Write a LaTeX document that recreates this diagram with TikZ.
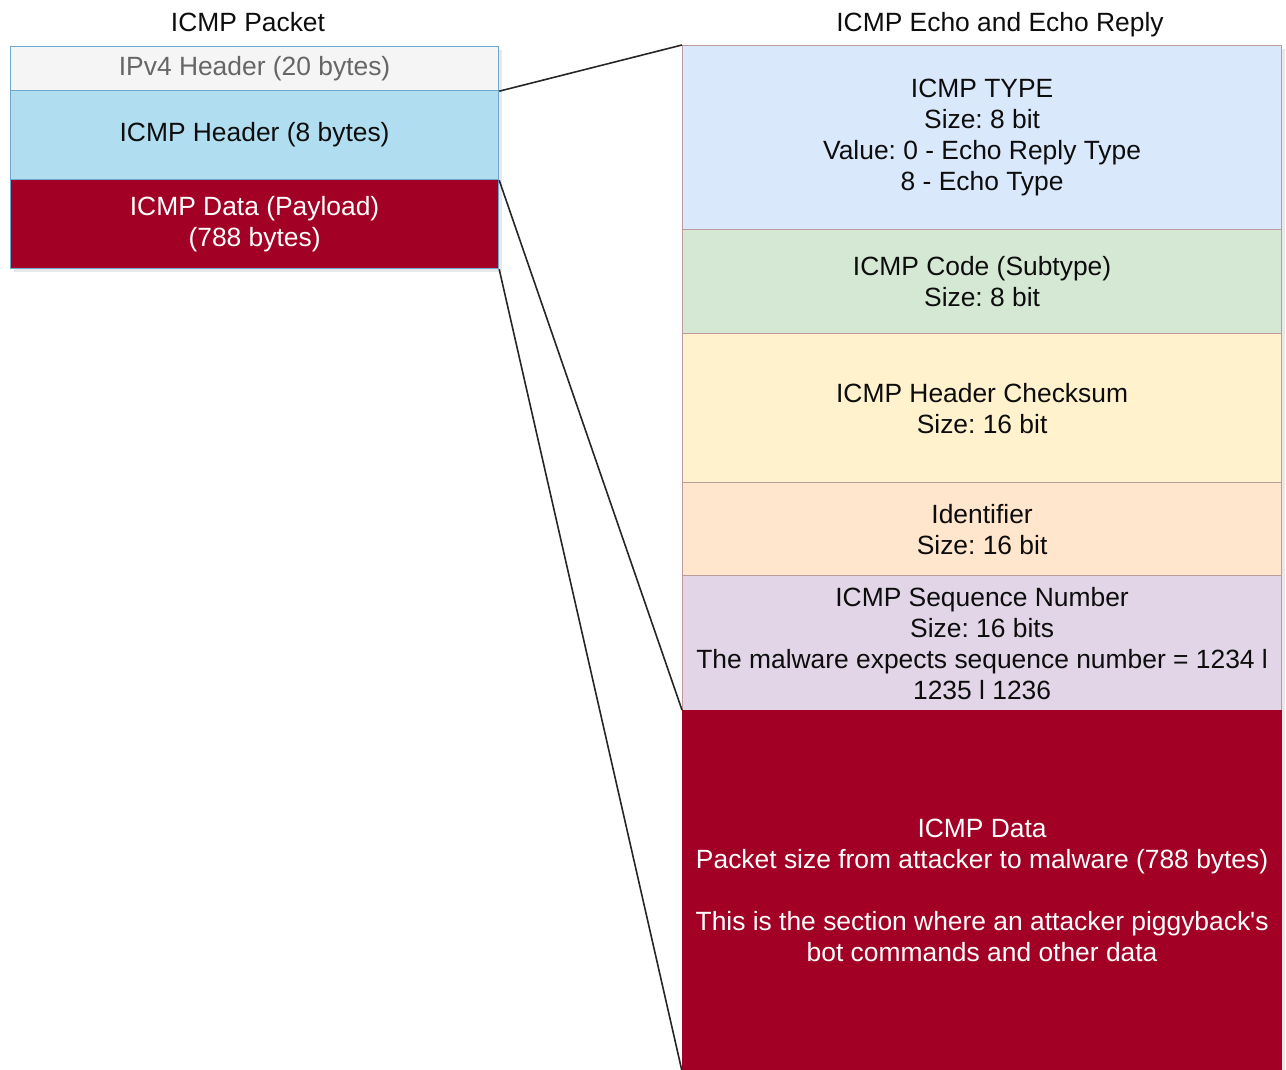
\documentclass[tikz,border=0pt]{standalone}
\usepackage{fontspec}
\setmainfont{Liberation Sans}
\usepackage{tikz}
\usetikzlibrary{positioning,shadows}
\frenchspacing

\definecolor{ipvfill}{HTML}{F5F5F5}
\definecolor{ipvtext}{HTML}{666666}
\definecolor{hdrfill}{HTML}{B1DDF0}
\definecolor{pktline}{HTML}{6FA8CF}
\definecolor{datafill}{HTML}{A20025}
\definecolor{typefill}{HTML}{DAE8FC}
\definecolor{codefill}{HTML}{D5E8D4}
\definecolor{sumfill}{HTML}{FFF2CC}
\definecolor{idfill}{HTML}{FFE6CC}
\definecolor{seqfill}{HTML}{E1D5E7}
\definecolor{echoline}{HTML}{BE9A9A}

\tikzset{
  field/.style={rectangle, align=center, inner sep=1pt, line width=0.6pt,
    text=black!95, font=\fontsize{13.2}{15.5}\selectfont,
    drop shadow={shadow xshift=1.5pt, shadow yshift=-1.5pt, opacity=0.18}},
  pktfield/.style={field, draw=pktline, minimum width=244pt},
  echofield/.style={field, draw=echoline, minimum width=299.5pt},
  title/.style={font=\fontsize{13.2}{15.5}\selectfont, text=black!95},
  link/.style={draw=black!85, line width=0.8pt}
}

\begin{document}
\begin{tikzpicture}[x=0.5pt, y=-0.5pt]
\useasboundingbox (0,0) rectangle (1286,1070);

% ICMP packet
\node [title] (pkttitle) at (248,22) {ICMP Packet};
\node [pktfield, fill=ipvfill, text=ipvtext, minimum height=22pt, anchor=north west] (ipv4) at (10,46) {IPv4 Header (20 bytes)};
\node [pktfield, fill=hdrfill, minimum height=44.5pt, below=-0.6pt of ipv4] (hdr) {ICMP Header (8 bytes)};
\node [pktfield, fill=datafill, text=white, minimum height=44.5pt, below=-0.6pt of hdr] (payload) {ICMP Data (Payload)\\(788 bytes)};

% ICMP echo / echo reply
\node [title] (echotitle) at (1000,25) {ICMP Echo and Echo Reply};
\node [echofield, fill=typefill, minimum height=92pt, anchor=north west] (type) at (682,45) {ICMP TYPE\\Size: 8 bit\\Value: 0 - Echo Reply Type\\8 - Echo Type};
\node [echofield, fill=codefill, minimum height=52pt, below=-0.6pt of type] (code) {ICMP Code (Subtype)\\Size: 8 bit};
\node [echofield, fill=sumfill, minimum height=74.5pt, below=-0.6pt of code] (checksum) {ICMP Header Checksum\\Size: 16 bit};
\node [echofield, fill=idfill, minimum height=46.5pt, below=-0.6pt of checksum] (ident) {Identifier\\Size: 16 bit};
\node [echofield, fill=seqfill, minimum height=67.5pt, below=-0.6pt of ident] (seq) {ICMP Sequence Number\\Size: 16 bits\\The malware expects sequence number = 1234 l\\1235 l 1236};
\node [echofield, draw=datafill, fill=datafill, text=white, minimum height=180pt, below=-0.6pt of seq] (data) {ICMP Data\\Packet size from attacker to malware (788 bytes)\\[15.5pt]This is the section where an attacker piggyback\textquotesingle s\\bot commands and other data};

\draw [link] (ipv4.south east) -- (type.north west);
\draw [link] (hdr.south east) -- (data.north west);
\draw [link] (payload.south east) -- (data.south west);
\end{tikzpicture}
\end{document}
